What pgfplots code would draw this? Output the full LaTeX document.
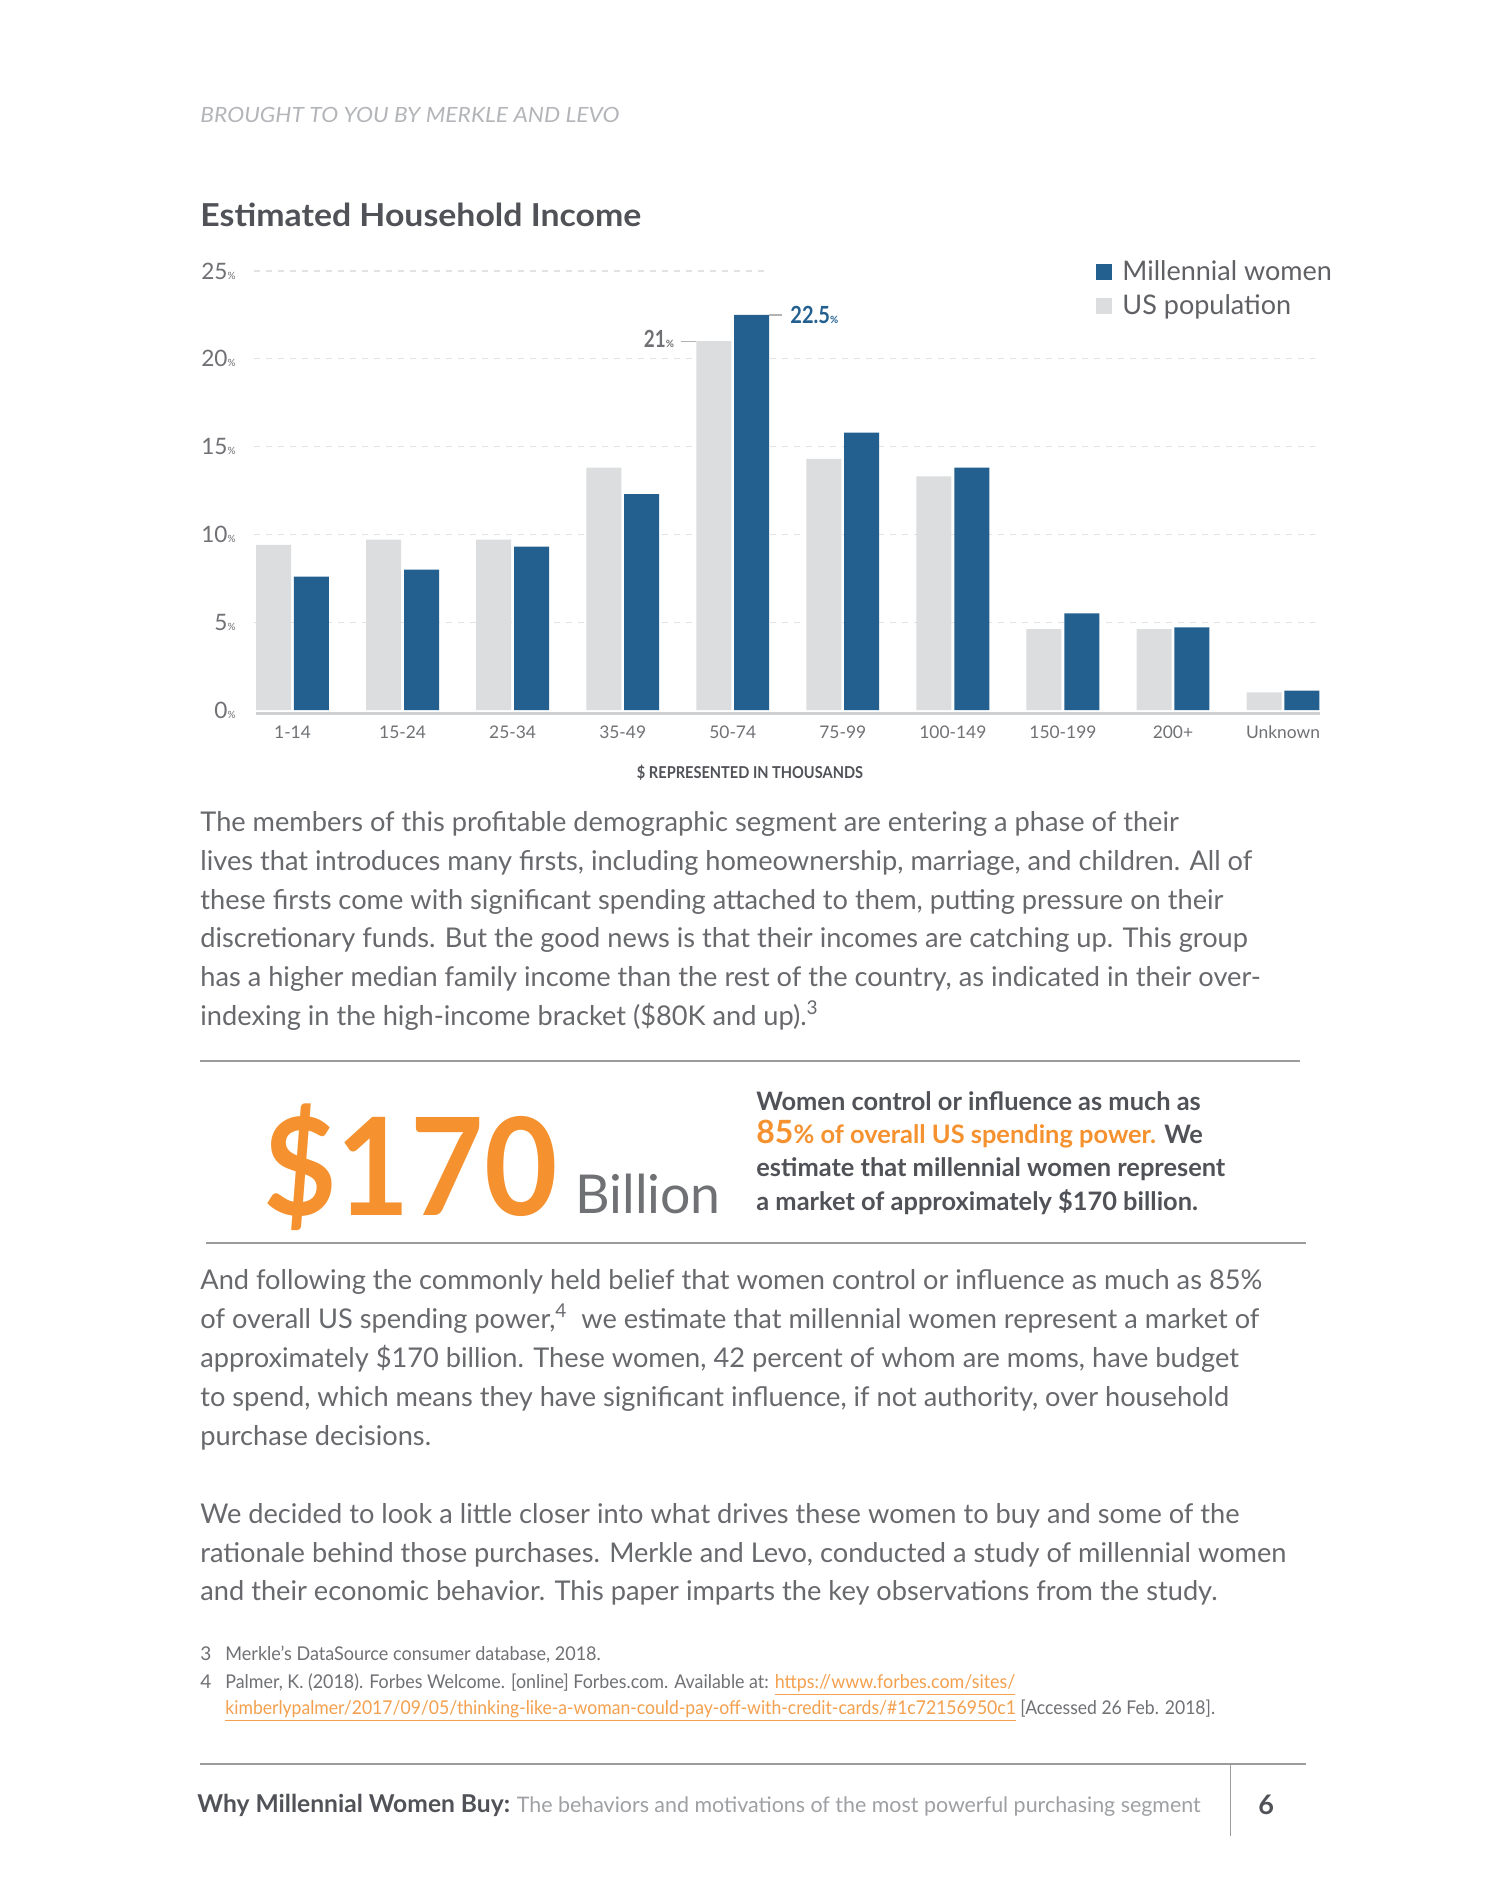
\documentclass[border=0pt]{standalone}
\usepackage{pgfplots}
\pgfplotsset{compat=1.18}
\usepackage{fontspec}
\setmainfont{Lato}
\definecolor{blueM}{HTML}{23608F}
\definecolor{grayUS}{HTML}{DCDDDE}
\definecolor{gridc}{HTML}{E2E2E2}
\definecolor{axisc}{HTML}{D0D1D3}
\definecolor{txt}{HTML}{68696D}
\definecolor{legtxt}{HTML}{606165}
\definecolor{titlec}{HTML}{505257}
\definecolor{ticktxt}{HTML}{707175}
\definecolor{orangeM}{HTML}{F5922F}
\definecolor{lightg}{HTML}{9EA0A3}
\definecolor{hdr}{HTML}{B3B5B8}
\definecolor{rulec}{HTML}{9C9C9C}
\definecolor{urlc}{HTML}{F4A04E}
\newcommand\fs[1]{\fontsize{#1}{#1}\selectfont}
\begin{document}
\begin{tikzpicture}
\begin{scope}[x=0.5pt,y=-0.5pt]
\path[use as bounding box, fill=white] (0,0) rectangle (1500,1900);
% header and title
\node[anchor=base west, inner sep=0, text=hdr, font=\fs{10.5}\itshape] at (200,123) {\scalebox{1.085}[1]{BROUGHT TO YOU BY MERKLE AND LEVO}};
\node[anchor=base west, inner sep=0, text=titlec, font=\fs{15.8}\bfseries] at (200,226) {\scalebox{1.07}[1]{Estimated Household Income}};
% x axis title
\node[anchor=base, inner sep=0, text=titlec, font=\fs{8.2}\bfseries] at (750,778) {\scalebox{0.89}[1]{\$ REPRESENTED IN THOUSANDS}};
% paragraph 1
\begin{scope}[every node/.style={anchor=base west, inner sep=0, text=txt, font=\fs{13.6}}]
\node at (200,831) {The members of this profitable demographic segment are entering a phase of their};
\node at (200,870) {lives that introduces many firsts, including homeownership, marriage, and children. All of};
\node at (200,909) {these firsts come with significant spending attached to them, putting pressure on their};
\node at (200,947.5) {discretionary funds. But the good news is that their incomes are catching up. This group};
\node at (200,986) {has a higher median family income than the rest of the country, as indicated in their over-};
\node at (200,1025) {indexing in the high-income bracket (\$80K and up).\textsuperscript{3}};
% paragraph 2
\node at (200,1289) {And following the commonly held belief that women control or influence as much as 85\%};
\node at (200,1328) {of overall US spending power,\textsuperscript{4}\ \ we estimate that millennial women represent a market of};
\node at (200,1367) {approximately \$170 billion. These women, 42 percent of whom are moms, have budget};
\node at (200,1406.5) {to spend, which means they have significant influence, if not authority, over household};
\node at (200,1445.5) {purchase decisions.};
% paragraph 3
\node at (200,1523) {We decided to look a little closer into what drives these women to buy and some of the};
\node at (200,1562) {rationale behind those purchases. Merkle and Levo, conducted a study of millennial women};
\node at (200,1600.5) {and their economic behavior. This paper imparts the key observations from the study.};
\end{scope}
% callout box
\draw[rulec, line width=1pt] (200,1061) -- (1300,1061);
\draw[rulec, line width=1pt] (206,1243) -- (1306,1243);
\node[anchor=base west, inner sep=0, text=orangeM, font=\fs{67.8}\bfseries] at (263,1215) {\scalebox{0.935}[1]{\$170}};
\node[anchor=base west, inner sep=0, text=ticktxt, font=\fs{26.8}] at (575,1213) {Billion};
\begin{scope}[every node/.style={anchor=base west, inner sep=0, text=titlec, font=\fs{12.7}\bfseries}]
\node at (756,1110) {Women control or influence as much as};
\node at (756,1143) {{\color{orangeM}{\fs{16}85}\% of overall US spending power.} We};
\node at (756,1176) {estimate that millennial women represent};
\node at (756,1210) {a market of approximately \$170 billion.};
\end{scope}
% footnotes
\begin{scope}[every node/.style={anchor=base west, inner sep=0, text=ticktxt, font=\fs{9.5}}]
\node at (200,1660) {3};
\node at (225,1660) {\scalebox{0.95}[1]{Merkle’s DataSource consumer database, 2018.}};
\node at (200,1688) {4};
\node at (225,1688) {\scalebox{0.94}[1]{Palmer, K. (2018). Forbes Welcome. [online] Forbes.com. Available at: {\color{urlc}\underline{https://www.forbes.com/sites/}}}};
\node at (225,1714) {\scalebox{0.925}[1]{{\color{urlc}\underline{kimberlypalmer/2017/09/05/thinking-like-a-woman-could-pay-off-with-credit-cards/\#1c72156950c1}} [Accessed 26 Feb. 2018].}};
\end{scope}
% footer
\draw[rulec, line width=1pt] (200,1764) -- (1306,1764);
\draw[rulec, line width=0.5pt] (1230,1764) -- (1230,1836);
\node[anchor=base west, inner sep=0] at (197,1812) {{\fs{12.3}\color{titlec}\bfseries Why Millennial Women Buy:} {\fs{10.7}\color{lightg}The behaviors and motivations of the most powerful purchasing segment}};
\node[anchor=base west, inner sep=0, text=titlec, font=\fs{13.5}\bfseries] at (1258,1814) {6};
\end{scope}
\begin{axis}[
  at={(128pt,-355pt)}, anchor=south west,
  scale only axis, width=532pt, height=219.5pt,
  xmin=-0.332, xmax=9.336, ymin=0, ymax=25,
  axis line style={draw=none}, tick style={draw=none},
  major tick length=0pt,
  clip=false,
  xtick={0,...,9},
  xticklabels={1-14,15-24,25-34,35-49,50-74,75-99,100-149,150-199,200+,Unknown},
  xticklabel style={anchor=center, yshift=-11pt, inner sep=0pt, font=\fs{8.7}, text=ticktxt},
  ytick={0,5,...,25},
  /pgf/number format/assume math mode=true,
  yticklabel={\pgfmathprintnumber{\tick}{\fs{5}\%}},
  yticklabel style={anchor=east, inner sep=0pt, xshift=-10pt, font=\fs{11.3}, text=ticktxt},
  legend style={at={(0.7895,1.033)}, anchor=north west, draw=none, fill=none, inner sep=0pt,
    font=\fs{13.5}, nodes={text=legtxt}, row sep=1.3pt},
  legend cell align=left,
  legend image code/.code={\fill[#1] (0pt,-4pt) rectangle (8pt,4pt); \path (11pt,0pt);},
]
% grid lines
\draw[gridc, line width=0.6pt, dash pattern=on 3pt off 3pt] (axis cs:-0.35,5) -- (axis cs:9.29,5);
\draw[gridc, line width=0.6pt, dash pattern=on 3pt off 3pt] (axis cs:-0.35,10) -- (axis cs:9.29,10);
\draw[gridc, line width=0.6pt, dash pattern=on 3pt off 3pt] (axis cs:-0.35,15) -- (axis cs:9.29,15);
\draw[gridc, line width=0.6pt, dash pattern=on 3pt off 3pt] (axis cs:-0.35,20) -- (axis cs:9.29,20);
\draw[gridc, line width=0.6pt, dash pattern=on 3pt off 3pt] (axis cs:-0.35,25) -- (axis cs:4.30,25);
\draw[axisc, line width=1.6pt] (axis cs:-0.332,-0.19) -- (axis cs:9.336,-0.19);
\addplot[ybar, bar width=0.318, bar shift=0.172, fill=blueM, draw=none]
  coordinates {(0,7.6) (1,8.0) (2,9.3) (3,12.3) (4,22.5) (5,15.8) (6,13.8) (7,5.5) (8,4.7) (9,1.1)};
\addlegendentry{Millennial women}
\addplot[ybar, bar width=0.318, bar shift=-0.172, fill=grayUS, draw=none]
  coordinates {(0,9.4) (1,9.7) (2,9.7) (3,13.8) (4,21.0) (5,14.3) (6,13.3) (7,4.6) (8,4.6) (9,1.0)};
\addlegendentry{US population}
% value annotations
\draw[gray!60, line width=0.6pt] (axis cs:3.53,21) -- (axis cs:3.67,21);
\node[anchor=east, inner sep=0pt, text=ticktxt, font=\fs{11.8}\bfseries] at (axis cs:3.47,21.15) {\scalebox{0.8}[1]{21}{\fs{5}\%}};
\draw[gray!60, line width=0.6pt] (axis cs:4.33,22.5) -- (axis cs:4.45,22.5);
\node[anchor=west, inner sep=0pt, text=blueM, font=\fs{11.8}\bfseries] at (axis cs:4.52,22.47) {\scalebox{0.85}[1]{22.5}{\fs{5}\%}};
\end{axis}
\end{tikzpicture}
\end{document}
